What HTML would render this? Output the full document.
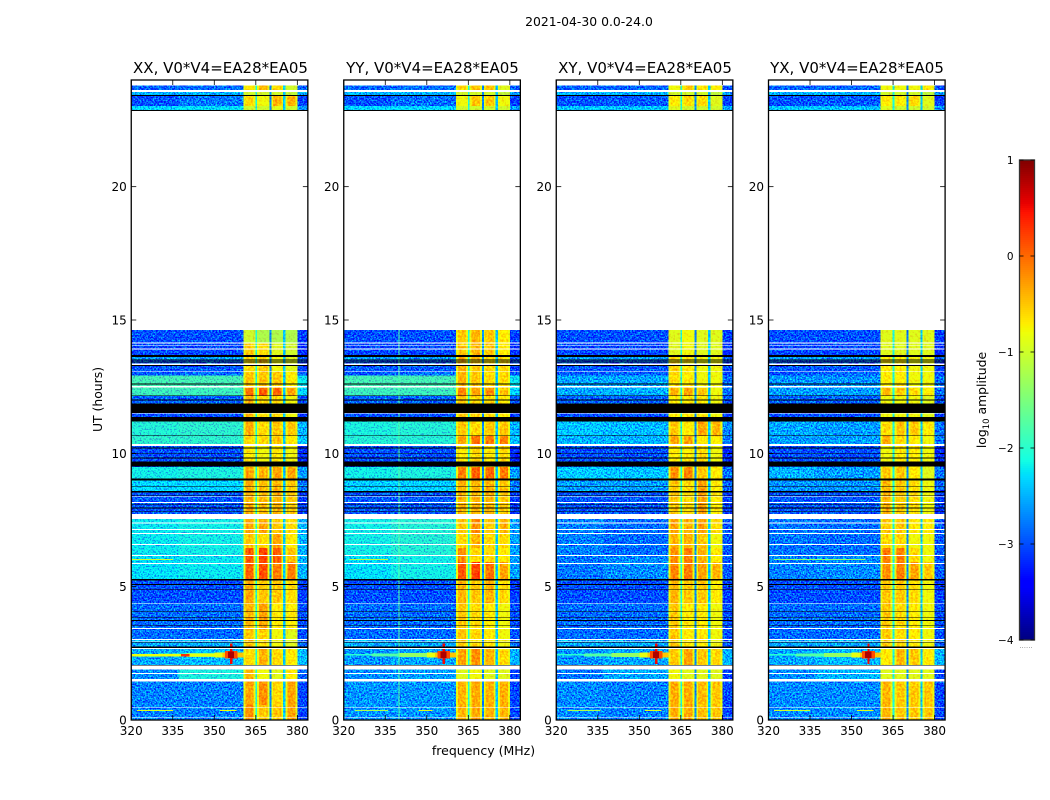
<!DOCTYPE html>
<html lang="en">
<head>
<meta charset="utf-8">
<title>2021-04-30 0.0-24.0</title>
<style>
html,body{margin:0;padding:0;background:#fff;width:1050px;height:800px;overflow:hidden}
svg{display:block}
text{font-family:"DejaVu Sans","Liberation Sans",sans-serif;fill:#000}
</style>
</head>
<body>
<svg id="chart" xmlns="http://www.w3.org/2000/svg" width="1050" height="800" viewBox="0 0 1050 800">
  <defs>
    <filter id="speckle" filterUnits="userSpaceOnUse" x="0" y="0" width="1050" height="800" color-interpolation-filters="sRGB">
      <feTurbulence type="fractalNoise" baseFrequency="0.62" numOctaves="2" seed="7" result="n"/>
      <feColorMatrix in="n" type="matrix" values="0 0 0 0 0.5  2.0 0 0 0 -0.5  0 0 0 0 0.5  0 0 0 0 1" result="g"/>
      <feComposite in="SourceGraphic" in2="g" operator="arithmetic" k1="0" k2="1" k3="1" k4="-0.5" result="m"/>
      <feComposite in="m" in2="SourceAlpha" operator="in"/>
    </filter>
    <filter id="speckle-soft" filterUnits="userSpaceOnUse" x="0" y="0" width="1050" height="800" color-interpolation-filters="sRGB">
      <feTurbulence type="fractalNoise" baseFrequency="0.45" numOctaves="2" seed="3" result="n"/>
      <feColorMatrix in="n" type="matrix" values="0 0 0 0 0.5  0.7 0 0 0 0.15  0 0 0 0 0.5  0 0 0 0 1" result="g"/>
      <feComposite in="SourceGraphic" in2="g" operator="arithmetic" k1="0" k2="1" k3="1" k4="-0.5" result="m"/>
      <feComposite in="m" in2="SourceAlpha" operator="in"/>
    </filter>
  </defs>
  <rect x="0" y="0" width="1050" height="800" fill="#fff"/>
  <text x="589" y="26" font-size="12.4" text-anchor="middle">2021-04-30 0.0-24.0</text>
  <text x="220.5" y="73" font-size="15" text-anchor="middle">XX, V0*V4=EA28*EA05</text>
  <text x="432.5" y="73" font-size="15" text-anchor="middle">YY, V0*V4=EA28*EA05</text>
  <text x="645" y="73" font-size="15" text-anchor="middle">XY, V0*V4=EA28*EA05</text>
  <text x="857" y="73" font-size="15" text-anchor="middle">YX, V0*V4=EA28*EA05</text>
  <text x="483.5" y="755" font-size="12.5" text-anchor="middle">frequency (MHz)</text>
  <text x="0" y="0" font-size="12.4" text-anchor="middle" transform="translate(102,399.5) rotate(-90)">UT (hours)</text>
  <text x="0" y="0" font-size="12.4" text-anchor="middle" transform="translate(986,400) rotate(-90)">log<tspan font-size="8.5" dy="3">10</tspan><tspan dy="-3"> amplitude</tspan></text>
  <g id="panels"></g>
  <g id="colorbar"></g>
</svg>
<script>
// ---- categories and tick labels ----
var panelNames = ['xx', 'yy', 'xy', 'yx'];
var xTicks = [320, 335, 350, 365, 380];
var yTicks = [0, 5, 10, 15, 20];
var colorbarTicks = [1, 0, -1, -2, -3, -4];
var colorbarLabels = ['1', '0', '\u22121', '\u22122', '\u22123', '\u22124'];

// ---- frequency bins (MHz) ----
var baseBins = [[320, 337], [337, 360.5], [380, 384]];
var subbandBins = [[360.5, 364.8], [365.5, 369.9], [370.6, 374.9], [375.7, 380]];
var gapBins = [[364.8, 365.5], [369.9, 370.6], [374.9, 375.7]];
var gapValues = [-2.1, -2.7, -2.4];
var subbandEdgeFraction = 0.16;
var subbandEdgeValue = -0.82;

// ---- continuum blocks: UT range, then [low, mid, high] log10 amplitude per panel ----
var baseTimes = [[23.79,23.6],[23.6,23.42],[23.42,23.03],[23.03,22.86],[14.63,14.14],[14.14,13.65],[13.65,13.5],[13.5,13.05],[13.05,12.92],[12.92,12.43],[12.43,12.17],[12.17,11.85],[11.85,11.21],[11.21,10.65],[10.65,10.33],[10.33,9.49],[9.49,9.04],[9.04,8.59],[8.59,7.54],[7.54,6.19],[6.19,5.27],[5.27,4.39],[4.39,3.0],[3.0,2.7],[2.7,2.04],[2.04,1.46],[1.46,0]];
var baseXX = [[-2.9,-2.85,-2.9],[-2.5,-2.5,-2.6],[-3,-2.8,-3.1],[-2.3,-2.25,-2.6],[-3,-3,-3.1],[-3.05,-3.05,-3.2],[-2.6,-2.6,-2.9],[-2.95,-2.95,-3.1],[-2.95,-2.85,-3],[-1.85,-1.85,-2.2],[-1.9,-1.9,-2.3],[-2.9,-2.9,-3],[-3,-3,-3.1],[-2.05,-2,-2.5],[-2,-2,-2.4],[-3,-3,-3.2],[-2.15,-2.1,-2.6],[-2.3,-2.3,-2.8],[-2.95,-2.95,-3.1],[-2.2,-2.15,-2.5],[-2.25,-2.2,-2.5],[-3,-3,-3.1],[-2.85,-2.85,-3],[-2.55,-2.55,-2.9],[-2.55,-2.45,-2.45],[-2.7,-2.1,-2.9],[-2.75,-2.75,-3.05]];
var baseYY = [[-2.9,-2.85,-2.9],[-2.5,-2.5,-2.6],[-3,-2.85,-3.1],[-2.3,-2.3,-2.6],[-3,-3,-3.1],[-3.05,-3.05,-3.2],[-2.6,-2.6,-2.9],[-2.95,-2.95,-3.1],[-2.95,-2.85,-3],[-1.85,-1.85,-2.2],[-1.9,-1.9,-2.3],[-2.9,-2.9,-3],[-3,-3,-3.1],[-2.1,-2.05,-2.5],[-2.05,-2.05,-2.4],[-3,-3,-3.2],[-2.15,-2.1,-2.6],[-2.35,-2.35,-2.8],[-2.95,-2.95,-3.1],[-2.15,-2.05,-2.6],[-2.25,-2.15,-2.6],[-3,-3,-3.1],[-2.85,-2.85,-3],[-2.55,-2.55,-2.9],[-2.65,-2.55,-2.5],[-2.7,-2.6,-3.05],[-2.65,-2.65,-3.05]];
var baseXY = [[-2.9,-2.9,-3],[-2.5,-2.5,-2.65],[-3,-2.95,-3.1],[-2.4,-2.4,-2.6],[-3,-3,-3.1],[-3.05,-3.05,-3.2],[-2.6,-2.6,-2.9],[-2.95,-2.95,-3.1],[-2.95,-2.9,-3],[-2.55,-2.55,-2.85],[-2.55,-2.5,-2.85],[-2.9,-2.9,-3],[-3,-3,-3.1],[-2.4,-2.45,-2.7],[-2.5,-2.5,-2.8],[-3,-3,-3.2],[-2.35,-2.4,-2.8],[-2.6,-2.6,-2.9],[-2.95,-2.95,-3.1],[-2.75,-2.85,-2.95],[-2.8,-2.7,-2.95],[-3,-3,-3.1],[-2.85,-2.85,-3],[-2.55,-2.55,-2.9],[-2.65,-2.55,-2.5],[-2.8,-2.55,-3.05],[-2.7,-2.75,-3.05]];
var baseYX = [[-2.9,-2.9,-3],[-2.5,-2.5,-2.65],[-3,-2.95,-3.1],[-2.4,-2.4,-2.6],[-3,-3,-3.1],[-3.05,-3.05,-3.2],[-2.6,-2.6,-2.9],[-2.95,-2.95,-3.1],[-2.95,-2.9,-3],[-2.65,-2.65,-2.85],[-2.6,-2.6,-2.85],[-2.9,-2.9,-3],[-3,-3,-3.1],[-2.55,-2.6,-2.8],[-2.6,-2.6,-2.8],[-3,-3,-3.2],[-2.5,-2.6,-2.8],[-2.65,-2.65,-2.9],[-2.95,-2.95,-3.1],[-2.8,-2.85,-2.95],[-2.75,-2.7,-2.95],[-3,-3,-3.1],[-2.85,-2.85,-3],[-2.55,-2.55,-2.9],[-2.55,-2.45,-2.5],[-2.7,-2.5,-3.05],[-2.7,-2.7,-3.05]];
var baseValues = [baseXX, baseYY, baseXY, baseYX];

// ---- subband blocks: UT range, then the four subband levels per panel ----
var subbandTimes = [[23.79,23.6],[23.6,23.4],[23.4,23.03],[23.03,22.84],[14.63,14.14],[14.14,13.69],[13.69,13.05],[13.05,12.45],[12.45,12.15],[12.15,11.21],[11.21,10.65],[10.65,10.31],[10.31,9.49],[9.49,9.04],[9.04,7.54],[7.54,7.01],[7.01,6.45],[6.45,5.93],[5.93,5.25],[5.25,4.39],[4.39,3.38],[3.38,2.7],[2.7,2.06],[2.06,1.46],[1.46,0.56],[0.56,0]];
var subbandXX = [[-.7,-.4,-.6,-1],[-1,-1,-1,-1.1],[-.6,-.8,-.4,-.4],[-1,-1,-.9,-1],[-1,-1.2,-1.2,-1.2],[-.5,-.6,-.9,-1],[-.6,-.5,-.8,-.9],[-.5,-.5,-.5,-.7],[-.05,.05,0,-.3],[-.4,-.6,-.6,-.8],[-.35,-.6,-.5,-.5],[-.6,-.6,-.5,-.7],[-.7,-.8,-.7,-.8],[-.3,-.4,-.3,-.3],[-.35,-.45,-.4,-.5],[-.3,-.3,-.5,-.6],[-.5,-.6,-.3,-.7],[.1,.2,.05,-.45],[.05,.15,-.1,-.1],[-.3,-.5,-.5,-.6],[-.4,-.3,-.7,-.7],[-.5,-.6,-.8,-.9],[-.6,-.4,-.6,-.7],[-.4,-.8,-.9,-.7],[-.3,-.2,-.6,-.3],[-.2,-.5,-.5,-.3]];
var subbandYY = [[-.6,-.5,-.5,-.9],[-1,-1,-1,-1.1],[-.8,-.5,-.5,-.8],[-1,-1,-1,-1],[-.5,-.4,-.5,-.7],[-.5,-.4,-.5,-.7],[-.4,-.5,-.6,-.6],[-.4,-.5,-.6,-.6],[-.15,-.3,-.2,-.5],[-.5,-.6,-.6,-.7],[-.5,-.6,-.5,-.5],[-.3,-.05,-.1,-.1],[-.7,-.6,-.7,-.6],[-.1,.05,0,-.1],[-.4,-.4,-.4,-.5],[-.5,-.2,-.5,-.4],[-.6,-.4,-.6,-.6],[-.2,-.6,-.6,-.7],[.1,.2,-.05,-.3],[-.4,-.5,-.4,-.6],[-.5,-.6,-.7,-.8],[-.5,-.6,-.7,-.8],[-.3,-.2,-.4,-.6],[-.9,-.8,-.9,-.9],[-.4,-.35,-.4,-.4],[-.4,-.35,-.4,-.4]];
var subbandXY = [[-.8,-.5,-.7,-.7],[-1,-1,-1,-1.1],[-.7,-.6,-.6,-.9],[-.9,-1,-1,-1],[-.9,-.8,-.9,-.9],[-.9,-.8,-.9,-.9],[-.6,-.7,-.8,-.8],[-.6,-.7,-.8,-.8],[-.4,-.3,-.5,-.8],[-.7,-.7,-.7,-.8],[-.5,-.7,-.3,-.4],[-.3,-.3,-.7,-.7],[-.7,-.7,-.6,-.8],[-.2,-.15,-.5,-.7],[-.5,-.6,-.3,-.7],[-.3,-.4,-.3,-.6],[-.4,-.4,-.5,-.8],[-.2,-.1,-.4,-.7],[-.15,-.1,-.3,-.4],[-.4,-.5,-.5,-.7],[-.5,-.7,-.7,-.8],[-.5,-.7,-.7,-.8],[-.5,-.3,-.5,-.6],[-.8,-.9,-.9,-.9],[-.35,-.35,-.45,-.5],[-.35,-.35,-.45,-.5]];
var subbandYX = [[-.8,-.8,-.8,-.7],[-1,-1,-1,-1.1],[-.7,-.7,-.6,-.9],[-.9,-1,-1,-1],[-.9,-.9,-.9,-.9],[-.9,-.9,-.9,-.9],[-.7,-.7,-.8,-.8],[-.7,-.7,-.8,-.8],[-.4,-.5,-.6,-.7],[-.8,-.8,-.8,-.9],[-.6,-.5,-.5,-.7],[-.35,-.6,-.7,-.8],[-.8,-.7,-.7,-.8],[-.5,-.5,-.7,-.9],[-.4,-.5,-.6,-.8],[-.5,-.5,-.7,-.7],[-.6,-.6,-.8,-.8],[-.1,-.1,-.6,-.8],[-.2,-.1,-.3,-.5],[-.5,-.5,-.6,-.8],[-.5,-.6,-.7,-.8],[-.5,-.6,-.7,-.8],[-.7,-.4,-.5,-.7],[-.9,-.9,-.9,-.9],[-.4,-.5,-.5,-.5],[-.4,-.5,-.5,-.5]];
var subbandValues = [subbandXX, subbandYY, subbandXY, subbandYX];

// ---- interference features: panel (-1 = all), f0, f1, ut0, ut1, value ----
var rfiFeatures = [
  [-1,320,330,2.47,2.41,-2.0],[-1,330,340,2.50,2.38,-1.75],[-1,340,350,2.52,2.36,-1.35],[-1,350,353,2.54,2.34,-0.85],[-1,353,360.5,2.54,2.34,-0.5],
  [-1,353.8,358.4,2.59,2.30,0.15],[-1,355.7,356.5,2.86,2.10,0.5],[-1,354.9,357.2,2.56,2.33,0.8],
  [0,320,350,2.47,2.38,-0.85],[0,338,341,2.47,2.38,0.3],
  [0,322,335,0.38,0.34,-0.9],[0,352,358,0.38,0.34,-0.8],
  [1,324,336,0.38,0.34,-1.2],[1,347,352,0.38,0.34,-0.9],[1,339.8,340.2,14.63,0,-1.75],
  [2,324,336,0.38,0.34,-1.2],[2,352,358,0.38,0.34,-0.9],
  [3,322,335,0.38,0.34,-1.0],[3,352,358,0.38,0.34,-0.9],
  [0,320,335,6.04,6.0,-1.0],[1,322,336,6.04,6.0,-1.1],[3,322,355,6.04,6.0,-1.4]
];

// ---- flagged integrations: ut0, ut1, kind (w = missing, k = flagged) ----
var flagRows = [
  [24,23.79,'w'],[23.625,23.55,'w'],[23.44,23.40,'k'],[22.875,22.84,'k'],[22.84,14.625,'w'],
  [14.15,14.12,'w'],[14.04,14.02,'w'],[13.93,13.90,'w'],[13.69,13.62,'k'],[13.52,13.48,'k'],[13.45,13.40,'k'],[13.36,13.32,'w'],[13.31,13.27,'k'],[13.09,13.06,'w'],
  [12.62,12.59,'k'],[12.525,12.475,'w'],[12.17,12.15,'k'],[12.01,11.99,'k'],[11.87,11.52,'k'],[11.51,11.49,'w'],[11.36,11.20,'k'],[10.69,10.66,'k'],[10.35,10.27,'w'],[10.21,10.19,'k'],
  [9.99,9.97,'k'],[9.84,9.81,'k'],[9.71,9.69,'k'],[9.67,9.50,'k'],[9.05,8.99,'k'],[8.775,8.75,'k'],[8.58,8.54,'k'],[8.43,8.41,'k'],[8.39,8.37,'w'],[8.18,8.13,'w'],[8.09,8.06,'k'],[7.96,7.94,'k'],[7.84,7.81,'k'],[7.725,7.54,'w'],
  [7.41,7.37,'w'],[7.16,7.125,'w'],[7.01,6.975,'w'],[6.6,6.56,'w'],[6.19,6.15,'w'],[5.89,5.85,'w'],[5.29,5.23,'k'],[5.1,5.07,'k'],[4.91,4.89,'k'],[4.39,4.36,'w'],[4.09,4.06,'k'],[3.86,3.84,'k'],[3.75,3.72,'k'],[3.56,3.54,'k'],[3.45,3.41,'w'],[3.04,3.0,'w'],[2.94,2.92,'w'],[2.91,2.88,'k'],[2.76,2.70,'k'],[2.70,2.66,'w'],[2.07,2.04,'k'],[2.04,1.89,'w'],[1.76,1.725,'w'],[1.54,1.44,'w'],[0.49,0.46,'w'],[0.11,0.09,'w']
];

// ---- axes ----
var SVGNS = 'http://www.w3.org/2000/svg';
var panelLeft = [131.25, 343.75, 556.25, 768.5];
var panelWidth = 176.6, panelTop = 80, panelHeight = 640;
var fMin = 320, fMax = 383.8, utMin = 0, utMax = 24, vMin = -4, vMax = 1;
var cbLeft = 1019.5, cbWidth = 15, cbTop = 160, cbHeight = 480;

function xScale(p, f) { return panelLeft[p] + (f - fMin) / (fMax - fMin) * panelWidth; }
function yScale(ut) { return panelTop + panelHeight - (ut - utMin) / (utMax - utMin) * panelHeight; }
function cbScale(v) { return cbTop + (vMax - v) / (vMax - vMin) * cbHeight; }
function ramp(t, pts) {
  for (var i = 1; i < pts.length; i++) {
    if (t <= pts[i][0]) {
      var a = pts[i - 1], b = pts[i];
      return a[1] + (b[1] - a[1]) * (t - a[0]) / (b[0] - a[0]);
    }
  }
  return pts[pts.length - 1][1];
}
function jet(v) {
  var t = Math.max(0, Math.min(1, (v - vMin) / (vMax - vMin)));
  var r = ramp(t, [[0,0],[.35,0],[.66,1],[.89,1],[1,.5]]);
  var g = ramp(t, [[0,0],[.125,0],[.375,1],[.64,1],[.91,0],[1,0]]);
  var b = ramp(t, [[0,.5],[.11,1],[.34,1],[.65,0],[1,0]]);
  return 'rgb(' + Math.round(r * 255) + ',' + Math.round(g * 255) + ',' + Math.round(b * 255) + ')';
}
function makeRect(parent, x, y, w, h, fill) {
  var el = document.createElementNS(SVGNS, 'rect');
  el.setAttribute('x', x.toFixed(2));
  el.setAttribute('y', y.toFixed(2));
  el.setAttribute('width', Math.max(w, 0).toFixed(2));
  el.setAttribute('height', Math.max(h, 0).toFixed(2));
  el.setAttribute('fill', fill);
  el.setAttribute('shape-rendering', 'crispEdges');
  parent.appendChild(el);
  return el;
}
function makeCell(parent, p, f0, f1, ut0, ut1, fill) {
  return makeRect(parent, xScale(p, f0), yScale(ut0), xScale(p, f1) - xScale(p, f0), yScale(ut1) - yScale(ut0), fill);
}
function makeLine(parent, x1, y1, x2, y2, width) {
  var el = document.createElementNS(SVGNS, 'line');
  el.setAttribute('x1', x1);
  el.setAttribute('y1', y1);
  el.setAttribute('x2', x2);
  el.setAttribute('y2', y2);
  el.setAttribute('stroke', '#000');
  el.setAttribute('stroke-width', width);
  parent.appendChild(el);
  return el;
}
function makeText(parent, x, y, size, anchor, content) {
  var el = document.createElementNS(SVGNS, 'text');
  el.setAttribute('x', x);
  el.setAttribute('y', y);
  el.setAttribute('font-size', size);
  el.setAttribute('text-anchor', anchor);
  el.textContent = content;
  parent.appendChild(el);
  return el;
}

var panelsRoot = document.getElementById('panels');
panelNames.forEach(function (name, p) {
  var group = document.createElementNS(SVGNS, 'g');
  
  
  panelsRoot.appendChild(group);

  var heat = document.createElementNS(SVGNS, 'g');
  
  
  heat.setAttribute('filter', 'url(#speckle)');
  group.appendChild(heat);

  var bands = document.createElementNS(SVGNS, 'g');
  
  
  bands.setAttribute('filter', 'url(#speckle-soft)');
  group.appendChild(bands);

  baseTimes.forEach(function (t, r) {
    baseBins.forEach(function (bin, c) {
      var cell = makeCell(heat, p, bin[0], bin[1], t[0], t[1], jet(baseValues[p][r][c]));
      
      
    });
    gapBins.forEach(function (bin, g) {
      var gapCell = makeCell(bands, p, bin[0], bin[1], t[0], t[1], jet(gapValues[g]));
      
      
    });
  });

  subbandTimes.forEach(function (t, r) {
    subbandBins.forEach(function (bin, s) {
      var level = subbandValues[p][r][s];
      var edge = (bin[1] - bin[0]) * subbandEdgeFraction;
      var edgeLevel = Math.min(level, subbandEdgeValue);
      var lower = makeCell(bands, p, bin[0], bin[0] + edge, t[0], t[1], jet(edgeLevel));
      
      
      var core = makeCell(bands, p, bin[0] + edge, bin[1] - edge, t[0], t[1], jet(level));
      
      
      var upper = makeCell(bands, p, bin[1] - edge, bin[1], t[0], t[1], jet(edgeLevel));
      
      
    });
  });

  rfiFeatures.forEach(function (d) {
    if (d[0] !== -1 && d[0] !== p) { return; }
    var rfi = makeCell(group, p, d[1], d[2], d[3], d[4], jet(d[5]));
    
    
  });

  flagRows.forEach(function (d) {
    var flag = makeCell(group, p, fMin, fMax, d[0], d[1], d[2] === 'w' ? '#fff' : '#000');
    
    
  });

  var frame = document.createElementNS(SVGNS, 'rect');
  frame.setAttribute('x', panelLeft[p]);
  frame.setAttribute('y', panelTop);
  frame.setAttribute('width', panelWidth);
  frame.setAttribute('height', panelHeight);
  frame.setAttribute('fill', 'none');
  frame.setAttribute('stroke', '#000');
  frame.setAttribute('stroke-width', '1.3');
  
  
  group.appendChild(frame);

  xTicks.forEach(function (v) {
    var x = xScale(p, v);
    var tickB = makeLine(group, x, panelTop + panelHeight, x, panelTop + panelHeight - 5, 0.8);
    
    
    var tickT = makeLine(group, x, panelTop, x, panelTop + 5, 0.8);
    
    
    var label = makeText(group, x, 735, 12, 'middle', String(v));
    
    
  });
  yTicks.forEach(function (v) {
    var y = yScale(v);
    var tickL = makeLine(group, panelLeft[p], y, panelLeft[p] + 5, y, 0.8);
    
    
    var tickR = makeLine(group, panelLeft[p] + panelWidth, y, panelLeft[p] + panelWidth - 5, y, 0.8);
    
    
    var label = makeText(group, panelLeft[p] - 4.5, y + 4.5, 12, 'end', String(v));
    
    
  });
});

// ---- colorbar ----
var cbRoot = document.getElementById('colorbar');
for (var i = 0; i < 240; i++) {
  var vHigh = vMax - i * (vMax - vMin) / 240;
  var vLow = vMax - (i + 1) * (vMax - vMin) / 240;
  var step = makeRect(cbRoot, cbLeft, cbScale(vHigh), cbWidth, cbScale(vLow) - cbScale(vHigh) + 0.5, jet((vHigh + vLow) / 2));
  
  
}
var cbFrame = document.createElementNS(SVGNS, 'rect');
cbFrame.setAttribute('x', cbLeft);
cbFrame.setAttribute('y', cbTop);
cbFrame.setAttribute('width', cbWidth);
cbFrame.setAttribute('height', cbHeight);
cbFrame.setAttribute('fill', 'none');
cbFrame.setAttribute('stroke', '#333');
cbFrame.setAttribute('stroke-width', '1.3');


cbRoot.appendChild(cbFrame);
colorbarTicks.forEach(function (v, k) {
  var y = cbScale(v);
  var tickL = makeLine(cbRoot, cbLeft, y, cbLeft + 4, y, 0.8);
  
  
  var tickR = makeLine(cbRoot, cbLeft + cbWidth, y, cbLeft + cbWidth - 4, y, 0.8);
  
  
  var label = makeText(cbRoot, 1013.5, y + 3.8, 10.5, 'end', colorbarLabels[k]);
  
  
});
var cbDots = makeText(cbRoot, 1026, 648, 7, 'middle', '......');


cbDots.setAttribute('style', 'fill:#888');
</script>
</body>
</html>
